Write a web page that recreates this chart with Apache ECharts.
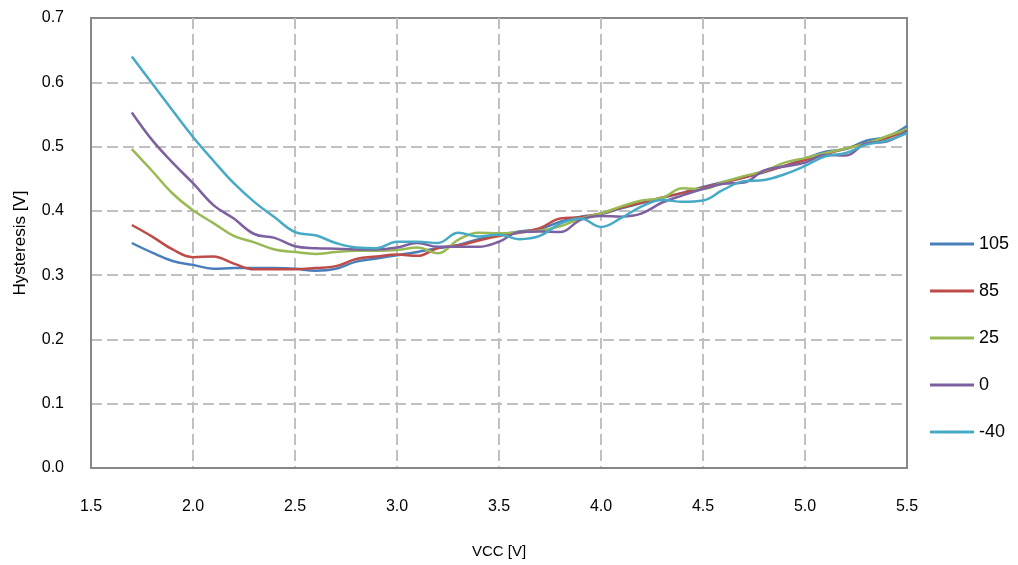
<!DOCTYPE html>
<html>
<head>
<meta charset="utf-8">
<script src="https://cdn.jsdelivr.net/npm/echarts@6/dist/echarts.min.js"></script>
<style>
html,body{margin:0;padding:0;background:#fff;}
#chart{width:1018px;height:565px;}
</style>
</head>
<body>
<div id="chart"></div>
<script>
// VCC values (V)
const vcc = [1.7,1.8,1.9,2.0,2.1,2.2,2.3,2.4,2.5,2.6,2.7,2.8,2.9,3.0,3.1,3.2,3.3,3.4,3.5,3.6,3.7,3.8,3.9,4.0,4.1,4.2,4.3,4.4,4.5,4.6,4.7,4.8,4.9,5.0,5.1,5.2,5.3,5.4,5.5];
const seriesNames = ['105','85','25','0','-40'];
const t105 = [0.350,0.335,0.322,0.316,0.310,0.311,0.311,0.311,0.310,0.307,0.310,0.321,0.326,0.331,0.336,0.342,0.347,0.356,0.362,0.368,0.372,0.383,0.391,0.395,0.404,0.412,0.420,0.428,0.437,0.445,0.452,0.460,0.470,0.481,0.492,0.496,0.509,0.515,0.532];
const t85  = [0.378,0.360,0.340,0.328,0.329,0.318,0.309,0.309,0.309,0.311,0.314,0.325,0.329,0.332,0.330,0.342,0.346,0.354,0.361,0.366,0.373,0.388,0.390,0.396,0.405,0.413,0.421,0.428,0.436,0.444,0.452,0.461,0.470,0.479,0.488,0.497,0.505,0.513,0.526];
const t25  = [0.496,0.462,0.427,0.401,0.381,0.361,0.351,0.340,0.336,0.333,0.336,0.338,0.338,0.339,0.343,0.334,0.355,0.366,0.365,0.367,0.369,0.376,0.388,0.396,0.407,0.416,0.420,0.435,0.434,0.445,0.454,0.462,0.475,0.482,0.490,0.497,0.505,0.516,0.527];
const t0   = [0.553,0.510,0.475,0.443,0.409,0.388,0.364,0.358,0.345,0.342,0.341,0.340,0.340,0.343,0.350,0.344,0.344,0.344,0.352,0.367,0.368,0.367,0.386,0.392,0.391,0.396,0.413,0.424,0.434,0.442,0.444,0.463,0.469,0.475,0.487,0.486,0.505,0.508,0.525];
const tm40 = [0.640,0.598,0.556,0.515,0.478,0.443,0.414,0.390,0.367,0.362,0.350,0.343,0.342,0.352,0.352,0.350,0.366,0.360,0.363,0.356,0.361,0.380,0.388,0.375,0.389,0.407,0.417,0.414,0.416,0.433,0.446,0.448,0.457,0.470,0.485,0.490,0.503,0.509,0.521];
const xTicks = [1.5,2.0,2.5,3.0,3.5,4.0,4.5,5.0,5.5];
const yTicks = [0.0,0.1,0.2,0.3,0.4,0.5,0.6,0.7];
const colors = ['#4A7EBB','#BE4B48','#98B954','#7D60A0','#46AAC5'];
const allData = [t105,t85,t25,t0,tm40];

const chart = echarts.init(document.getElementById('chart'));
const font = 'Liberation Sans, Arial, sans-serif';
chart.setOption({
  animation:false,
  color: colors,
  grid:{left:91,right:111,top:18,bottom:97,show:true,borderColor:'#878787',borderWidth:2,backgroundColor:'transparent'},
  legend:{
    orient:'vertical', left:925, top:229,
    icon:'rect', itemWidth:44, itemHeight:3, itemGap:27,
    textStyle:{fontFamily:font,fontSize:18,color:'#000',lineHeight:20},
    data:seriesNames
  },
  xAxis:{
    type:'value', min:xTicks[0], max:xTicks[xTicks.length-1], interval:0.5,
    name:'VCC [V]', nameLocation:'middle', nameGap:76,
    nameTextStyle:{fontFamily:font,fontSize:15,color:'#000'},
    axisLine:{show:true,lineStyle:{color:'#878787',width:2}},
    axisTick:{show:false},
    axisLabel:{margin:31,fontFamily:font,fontSize:16,color:'#000',formatter:v=>v.toFixed(1)},
    splitLine:{show:true,showMinLine:false,showMaxLine:false,lineStyle:{color:'#C0C0C0',width:2,type:[11,5]}}
  },
  yAxis:{
    type:'value', min:yTicks[0], max:yTicks[yTicks.length-1], interval:0.1,
    name:'Hysteresis [V]', nameLocation:'middle', nameGap:62, nameRotate:90,
    nameTextStyle:{fontFamily:font,fontSize:17,color:'#000'},
    axisLine:{show:true,lineStyle:{color:'#878787',width:2}},
    axisTick:{show:false},
    axisLabel:{margin:27,fontFamily:font,fontSize:16,color:'#000',formatter:v=>v.toFixed(1)},
    splitLine:{show:true,showMinLine:false,showMaxLine:false,lineStyle:{color:'#C0C0C0',width:2,type:[11,5]}}
  },
  series: seriesNames.map((n,i)=>({
    name:n, type:'line', smooth:0.4, showSymbol:false, symbol:'none',
    lineStyle:{width:2.5,color:colors[i]},
    itemStyle:{color:colors[i]},
    data: vcc.map((x,k)=>[x, allData[i][k]])
  }))
});
</script>
</body>
</html>
